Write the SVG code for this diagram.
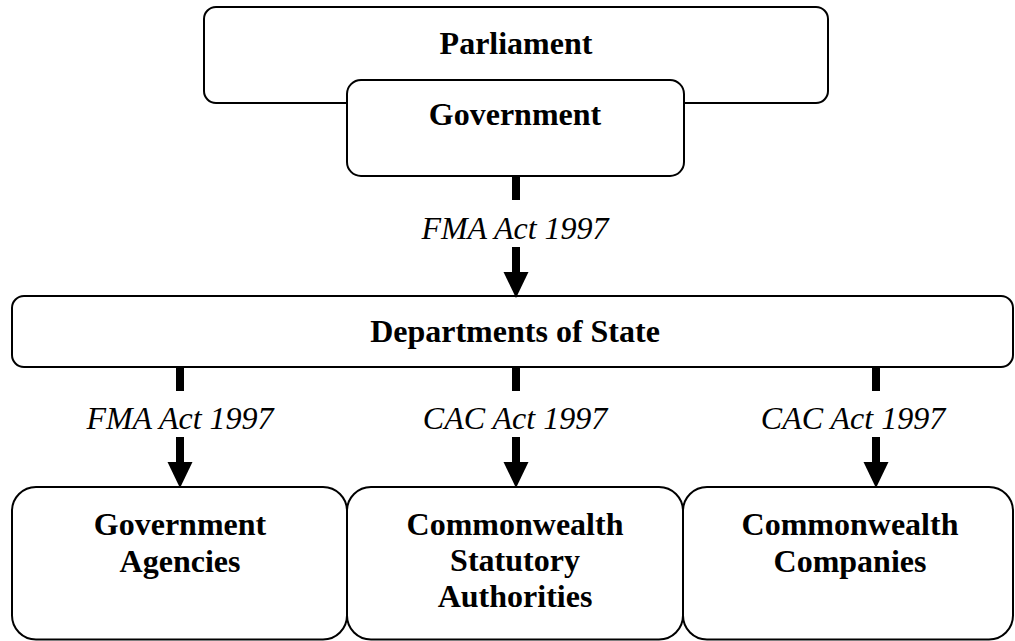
<svg xmlns="http://www.w3.org/2000/svg" width="1015" height="641" viewBox="0 0 1015 641">
<style>
.box{fill:#fff;stroke:#000;stroke-width:2}
.t{font-family:"Liberation Serif","Times New Roman",serif;font-weight:bold;font-size:32px;text-anchor:middle;fill:#000}
.lbl{font-family:"Liberation Serif","Times New Roman",serif;font-style:italic;font-size:32px;text-anchor:middle;fill:#000}
.stem{stroke:#000;stroke-width:8;fill:none}
</style>
<defs>
<marker id="ah" markerUnits="userSpaceOnUse" markerWidth="26" markerHeight="26" viewBox="0 0 25 24" refX="0" refY="12" orient="auto">
<path d="M0,0 L25,12 L0,24 z" fill="#000"/>
</marker>
</defs>
<rect width="1015" height="641" fill="#fff"/>
<g id="parliament">
<rect class="box" x="204" y="7" width="624" height="96" rx="12"/>
<text class="t" x="516" y="54">Parliament</text>
</g>
<g id="government">
<rect class="box" x="347" y="80" width="337" height="96" rx="14"/>
<text class="t" x="515" y="125">Government</text>
</g>
<g id="departments">
<rect class="box" x="12" y="296" width="1001" height="71" rx="12"/>
<text class="t" x="515" y="342">Departments of State</text>
</g>
<g id="agencies">
<rect class="box" x="12" y="487" width="335" height="152.5" rx="24"/>
<text class="t" x="180" y="535">Government</text>
<text class="t" x="180" y="572">Agencies</text>
</g>
<g id="statutory">
<rect class="box" x="347" y="487" width="336" height="152.5" rx="24"/>
<text class="t" x="515" y="535">Commonwealth</text>
<text class="t" x="515" y="571">Statutory</text>
<text class="t" x="515" y="607">Authorities</text>
</g>
<g id="companies">
<rect class="box" x="683" y="487" width="330" height="152.5" rx="24"/>
<text class="t" x="850" y="535">Commonwealth</text>
<text class="t" x="850" y="572">Companies</text>
</g>
<g id="connectors">
<line class="stem" x1="516" y1="176" x2="516" y2="200"/>
<text class="lbl" x="515" y="239">FMA Act 1997</text>
<line class="stem" x1="516" y1="247" x2="516" y2="272" marker-end="url(#ah)"/>
<line class="stem" x1="180" y1="367" x2="180" y2="391"/>
<text class="lbl" x="180" y="429">FMA Act 1997</text>
<line class="stem" x1="180" y1="437" x2="180" y2="462" marker-end="url(#ah)"/>
<line class="stem" x1="516" y1="367" x2="516" y2="391"/>
<text class="lbl" x="515" y="429">CAC Act 1997</text>
<line class="stem" x1="516" y1="437" x2="516" y2="462" marker-end="url(#ah)"/>
<line class="stem" x1="876" y1="367" x2="876" y2="391"/>
<text class="lbl" x="853" y="429">CAC Act 1997</text>
<line class="stem" x1="876" y1="437" x2="876" y2="462" marker-end="url(#ah)"/>
</g>
</svg>
